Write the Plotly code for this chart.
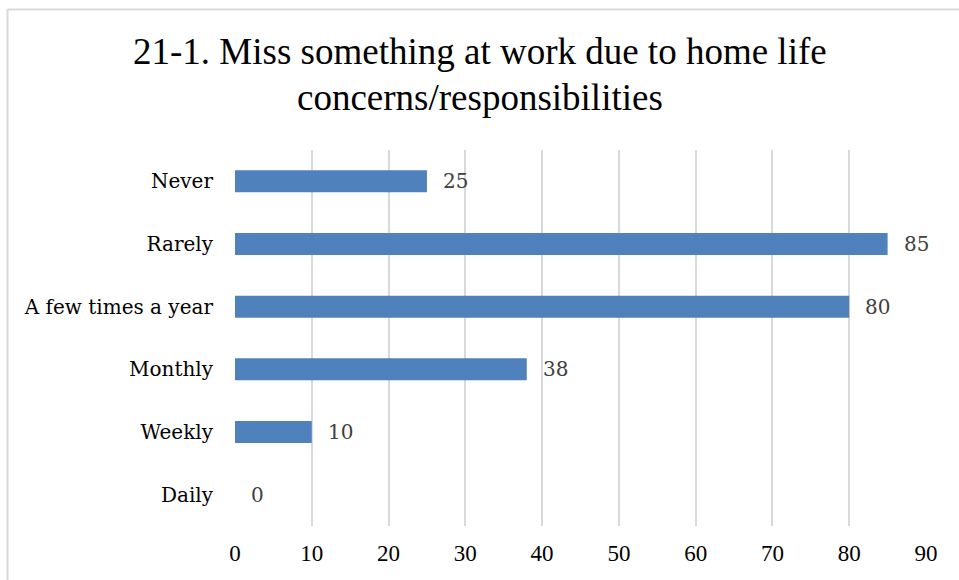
import plotly.graph_objects as go

categories = ["Never", "Rarely", "A few times a year", "Monthly", "Weekly", "Daily"]
values = [25, 85, 80, 38, 10, 0]
tick_vals = [0, 10, 20, 30, 40, 50, 60, 70, 80, 90]
title_lines = ["21-1. Miss something at work due to home life", "concerns/responsibilities"]

W, H = 959, 580
ML, MR, MT, MB = 235, 33, 150, 54
pw = W - ML - MR
ph = H - MT - MB

fig = go.Figure()
fig.add_trace(go.Bar(
    y=categories, x=values, orientation="h",
    marker=dict(color="#4F81BD", line=dict(width=0)),
    width=0.35,
    hoverinfo="skip",
))

for c, v in zip(categories, values):
    fig.add_annotation(x=v, y=c, text=str(v), showarrow=False, xanchor="left",
                       xshift=14, font=dict(family="DejaVu Serif", size=20, color="#404040"))

# title, two centred lines
for line, ypix in zip(title_lines, [52, 97]):
    fig.add_annotation(text=line, showarrow=False, xref="paper", yref="paper",
                       x=(W / 2 - ML) / pw, y=(H - MB - ypix) / ph,
                       xanchor="center", yanchor="middle",
                       font=dict(family="Liberation Serif", size=37, color="#000000"))

# outer chart border (left and top visible)
x_left = (7.5 - ML) / pw
y_top = 1 + (MT - 9.5) / ph
fig.add_shape(type="line", xref="paper", yref="paper", x0=x_left, x1=x_left,
              y0=y_top, y1=-(MB + 5) / ph, line=dict(color="#D9D9D9", width=2))
fig.add_shape(type="line", xref="paper", yref="paper", x0=x_left, x1=(W - ML + 5) / pw,
              y0=y_top, y1=y_top, line=dict(color="#D9D9D9", width=2))

fig.update_layout(
    width=W, height=H,
    margin=dict(l=ML, r=MR, t=MT, b=MB, autoexpand=False),
    paper_bgcolor="white", plot_bgcolor="white",
    showlegend=False,
    xaxis=dict(range=[0, 90], tickvals=tick_vals, showgrid=True, gridcolor="#D9D9D9",
               gridwidth=1.5, zeroline=False, showline=False, ticks="", automargin=False,
               tickfont=dict(family="Liberation Serif", size=23, color="#000000"),
               ticklabelstandoff=11),
    yaxis=dict(categoryorder="array", categoryarray=categories[::-1], autorange=True,
               showgrid=False, zeroline=False, showline=False, ticks="", automargin=False,
               tickfont=dict(family="DejaVu Serif", size=20, color="#000000"),
               ticklabelstandoff=21),
)

fig.write_html("out.html", config={"displayModeBar": False},
               post_script="document.body.style.margin='0';document.body.style.overflow='hidden';")
